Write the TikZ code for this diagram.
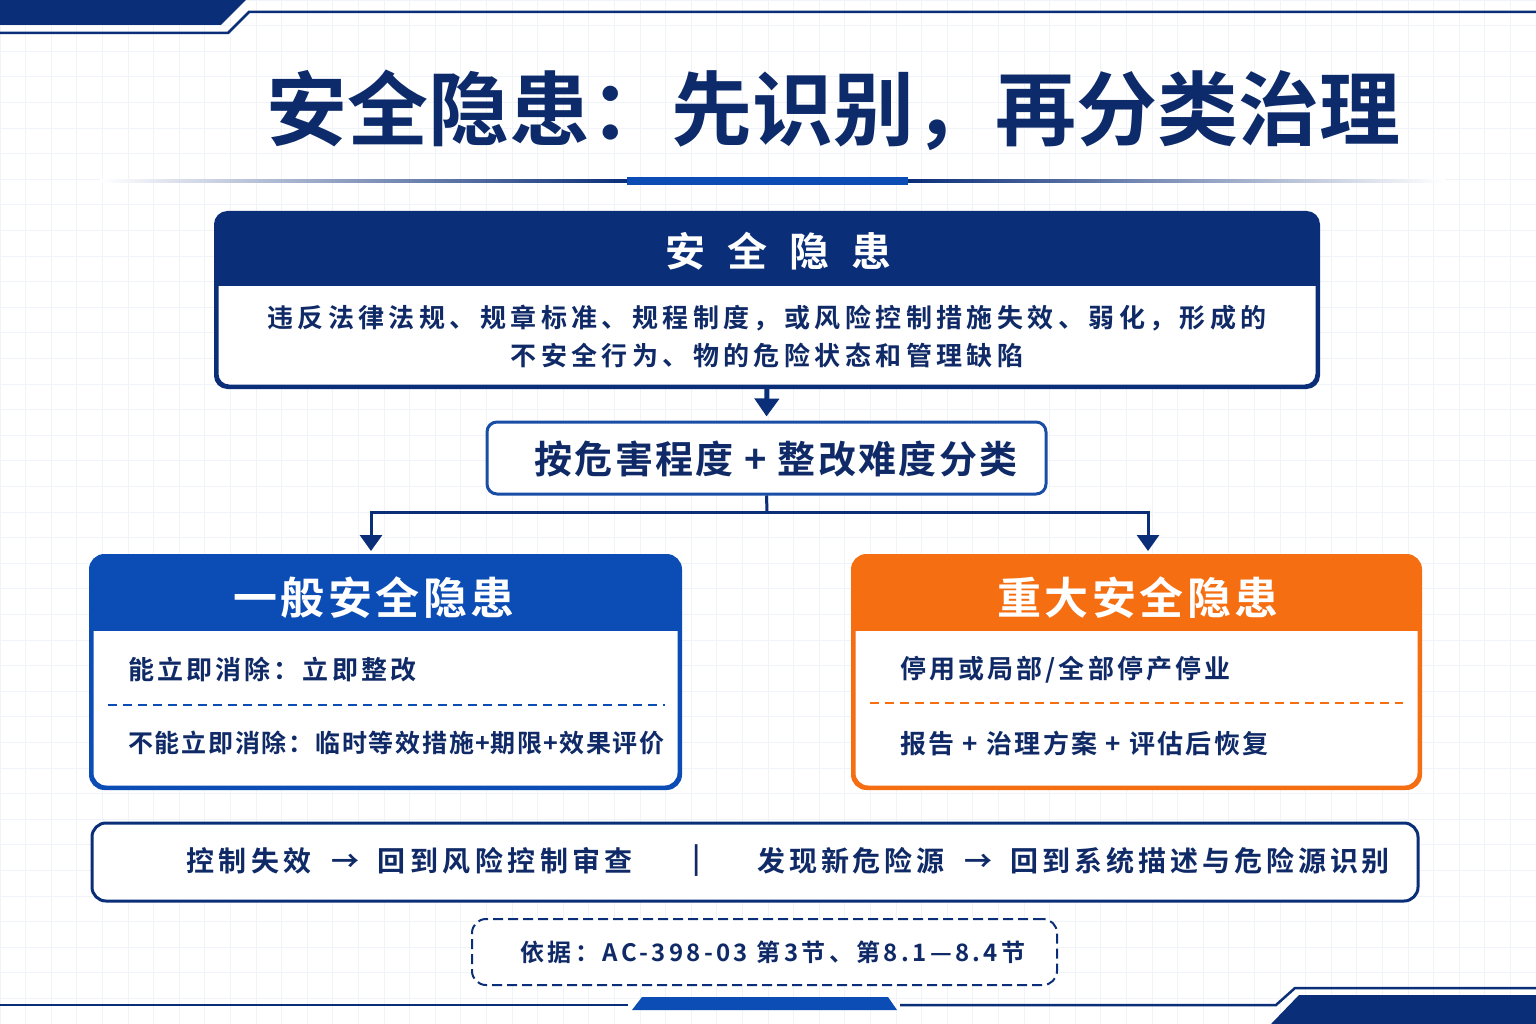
\documentclass[tikz,border=0pt]{standalone}
\usepackage{fontspec}
\setmainfont{Noto Sans CJK SC}[BoldFont={* Bold}]
\usetikzlibrary{arrows.meta}
\definecolor{navy}{HTML}{0D2B6B}
\definecolor{hdrnavy}{HTML}{0B2E78}
\definecolor{txtnavy}{HTML}{0F2A66}
\definecolor{bblue}{HTML}{0B4DB4}
\definecolor{mblue}{HTML}{1A4DA6}
\definecolor{orng}{HTML}{F56E12}
\definecolor{gridc}{HTML}{F0F3F8}
\newcommand\trk[1]{\addfontfeature{LetterSpace=#1}}
\newcommand\fsz[1]{\fontsize{#1}{#1}\selectfont}
\begin{document}
\begin{tikzpicture}[x=1pt,y=-1pt,
  txt/.style={inner sep=0pt, text=txtnavy},
  hdr/.style={inner sep=0pt, text=white},
  box/.style={fill=white, line width=3pt, inner sep=0pt},
  conn/.style={draw=hdrnavy, line width=3pt},
  deco/.style={draw=hdrnavy, line width=2.5pt}
]
\useasboundingbox (0,0) rectangle (1536,1024);
\fill[white] (0,0) rectangle (1536,1024);
\foreach \i in {0,...,60} \draw[gridc, line width=0.8pt] (\i*25.6,0) -- (\i*25.6,1024);
\foreach \i in {0,...,40} \draw[gridc, line width=0.8pt] (0,\i*25.6) -- (1536,\i*25.6);

% top decoration
\fill[hdrnavy] (0,0) -- (246,0) -- (221,25) -- (0,25) -- cycle;
\draw[deco] (0,33) -- (228,33) -- (249,12) -- (1536,12);
% bottom decoration
\draw[deco] (0,1005) -- (628,1005);
\draw[deco] (900,1005) -- (1276,1005) -- (1295,988) -- (1536,988);
\fill[bblue] (632,1010) -- (642,997) -- (888,997) -- (897,1010) -- cycle;
\fill[hdrnavy] (1299,995) -- (1536,995) -- (1536,1024) -- (1271,1024) -- cycle;

% title
\node[inner sep=0pt, text=navy, font=\bfseries\fsz{81}] (title) at (833,110) {安全隐患：先识别，再分类治理};
\shade[left color=white, right color=hdrnavy] (100,180) rectangle (627,182.5);
\shade[left color=hdrnavy, right color=white] (908,180) rectangle (1445,182.5);
\fill[bblue] (627,177) rectangle (908,185);

% top box
\node[box, draw=hdrnavy, rounded corners=12pt, minimum width=1100pt, minimum height=172pt] (top) at (767,300) {};
\begin{scope}
  \clip[rounded corners=12pt] (top.north west) rectangle (top.south east);
  \fill[hdrnavy] (top.north west) rectangle ([yshift=-74pt]top.north east);
\end{scope}
\draw[hdrnavy, line width=3pt, rounded corners=12pt] (top.north west) rectangle (top.south east);
\node[hdr, font=\bfseries\fsz{40}\trk{55}, xshift=11pt] (toph) at (767,251) {安全隐患};
\node[txt, font=\bfseries\fsz{26}\trk{17}] (d1) at (767,318) {违反法律法规、规章标准、规程制度，或风险控制措施失效、弱化，形成的};
\node[txt, font=\bfseries\fsz{26}\trk{17}] (d2) at (767,356) {不安全行为、物的危险状态和管理缺陷};

% middle box
\node[box, draw=mblue, rounded corners=10pt, minimum width=559pt, minimum height=72pt] (mid) at (766.5,458) {};
\node[txt, font=\bfseries\fsz{38}\trk{6}] (midt) at (776,459) {按危害程度 + 整改难度分类};

\draw[conn, line width=5pt, -{Triangle[width=24pt,length=18pt]}, shorten >=4pt] (top.south) -- (mid.north);

% branch
\coordinate (br) at (767,512);
\coordinate (la) at (371,551);
\coordinate (ra) at (1148,551);
\draw[conn] (mid.south) -- (br);
\draw[conn, -{Triangle[width=22pt,length=16pt]}] (br) -| (la);
\draw[conn, -{Triangle[width=22pt,length=16pt]}] (br) -| (ra);

% left box
\node[box, draw=bblue, rounded corners=14pt, minimum width=587pt, minimum height=230pt] (gen) at (385.5,672) {};
\begin{scope}
  \clip[rounded corners=14pt] (gen.north west) rectangle (gen.south east);
  \fill[bblue] (gen.north west) rectangle ([yshift=-75pt]gen.north east);
\end{scope}
\draw[bblue, line width=3pt, rounded corners=14pt] (gen.north west) rectangle (gen.south east);
\node[hdr, font=\bfseries\fsz{44}\trk{8}] (genh) at (374,598) {一般安全隐患};
\node[txt, anchor=west, font=\bfseries\fsz{26}\trk{12}] (g1) at (128,670) {能立即消除：立即整改};
\draw[bblue, line width=2pt, dash pattern=on 9pt off 6pt] (108,705) -- (665,705);
\node[txt, anchor=west, font=\bfseries\fsz{25}\trk{7}] (g2) at (128,743) {不能立即消除：临时等效措施\hspace{1pt}+\hspace{1pt}期限\hspace{1pt}+\hspace{1pt}效果评价};

% right box
\node[box, draw=orng, rounded corners=14pt, minimum width=565pt, minimum height=230pt] (maj) at (1136.5,672) {};
\begin{scope}
  \clip[rounded corners=14pt] (maj.north west) rectangle (maj.south east);
  \fill[orng] (maj.north west) rectangle ([yshift=-75pt]maj.north east);
\end{scope}
\draw[orng, line width=3pt, rounded corners=14pt] (maj.north west) rectangle (maj.south east);
\node[hdr, font=\bfseries\fsz{44}\trk{8}] (majh) at (1138,598) {重大安全隐患};
\node[txt, anchor=west, font=\bfseries\fsz{26}\trk{12}] (m1) at (900,670) {停用或局部/全部停产停业};
\draw[orng, line width=2pt, dash pattern=on 9pt off 6pt] (870,703) -- (1403,703);
\node[txt, anchor=west, font=\bfseries\fsz{26}\trk{9}] (m2) at (900,743) {报告 + 治理方案 + 评估后恢复};

% loop box
\node[box, draw=hdrnavy, rounded corners=14pt, minimum width=1326pt, minimum height=78pt] (loop) at (755,862) {};
\node[txt, anchor=west, font=\bfseries\fsz{28}\trk{16}] (lp1) at (186,861) {控制失效\hspace{20pt}→\hspace{18pt}回到风险控制审查};
\node[txt, font=\bfseries\fsz{28}] (sep) at (697,861) {|};
\node[txt, anchor=west, font=\bfseries\fsz{28}\trk{14}] (lp2) at (757,861) {发现新危险源\hspace{20pt}→\hspace{18pt}回到系统描述与危险源识别};

% reference box
\node[box, draw=hdrnavy, line width=2pt, dash pattern=on 10pt off 5pt, rounded corners=14pt, minimum width=585pt, minimum height=66pt] (ref) at (764.5,952) {};
\node[txt, font=\bfseries\fsz{24}\trk{14}] (reft) at (773,952) {依据：AC-398-03 第3节、第8.1—8.4节};
\end{tikzpicture}
\end{document}
